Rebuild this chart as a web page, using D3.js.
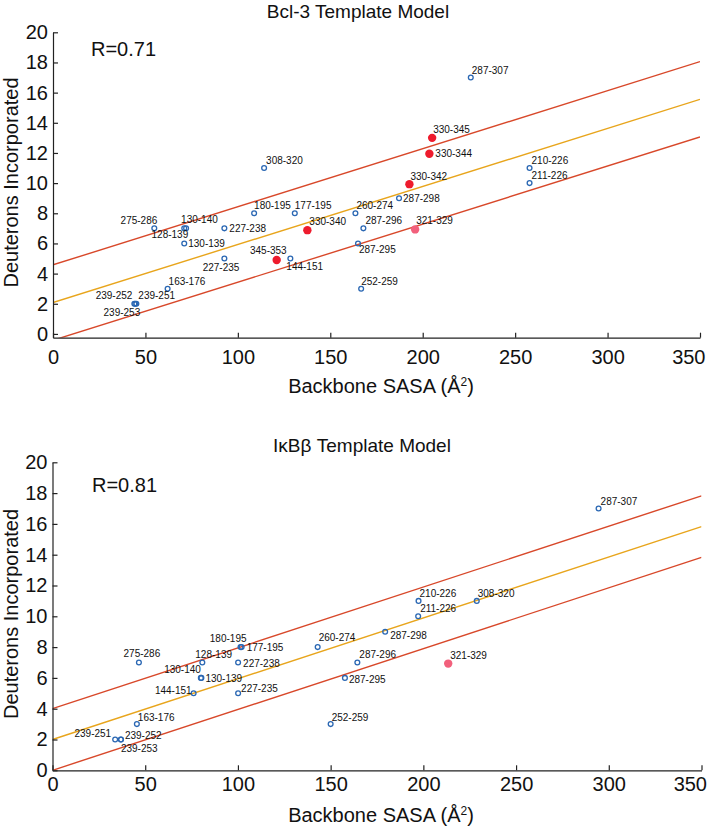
<!DOCTYPE html>
<html>
<head>
<meta charset="utf-8">
<script src="https://cdn.jsdelivr.net/npm/d3@7"></script>
<style>
  html, body { margin: 0; padding: 0; background: #fff; }
  svg { display: block; font-family: "Liberation Sans", Arial, sans-serif; }
</style>
</head>
<body>
<svg id="chart" width="709" height="832"></svg>
<script>
// ---------------- DATA ----------------
const xTicks = [0, 50, 100, 150, 200, 250, 300, 350];
const yTicks = [0, 2, 4, 6, 8, 10, 12, 14, 16, 18, 20];

// Panel 1: Bcl-3 Template Model
const bclTitle = "Bcl-3 Template Model";
const bclR = "R=0.71";
const bclLabels = ["287-307","330-345","330-344","308-320","210-226","211-226","330-342","287-298",
  "180-195","177-195","260-274","275-286","130-140","128-139","227-238","330-340","287-296",
  "321-329","130-139","287-295","227-235","345-353","144-151","163-176","252-259",
  "239-252","239-251","239-253"];
const bclX = [226, 205.1, 203.6, 114.2, 257.8, 257.8, 192.8, 187.2,
  108.8, 130.8, 163.6, 54.8, 72, 71, 92.7, 137.6, 167.9,
  195.9, 71, 165, 92.7, 121, 128.4, 62, 166.7,
  44, 45.1, 44.5];
const bclY = [17, 13, 11.95, 11, 11, 10, 9.93, 9,
  8, 8, 8, 7, 7, 7, 7, 6.88, 7,
  6.93, 6, 6, 5, 4.9, 5, 3, 3,
  2, 2, 2];
const bclKind = ["o","r","r","o","o","o","r","o",
  "o","o","o","o","o","o","o","r","o",
  "p","o","o","o","r","o","o","o",
  "o","o","o"];
const bclFit = [2.08, 0.0385];   // intercept, slope
const bclBand = 2.5;

// Panel 2: IκBβ Template Model
const ikbTitle = "IκBβ Template Model";
const ikbR = "R=0.81";
const ikbLabels = ["287-307","210-226","308-320","211-226","287-298","180-195","177-195","260-274",
  "275-286","128-139","227-238","287-296","321-329","130-140","130-139","287-295",
  "144-151","227-235","163-176","252-259","239-251","239-252","239-253"];
const ikbX = [294.5, 197.4, 228.8, 197.2, 179.4, 101.4, 102, 143,
  46.6, 80.8, 100.1, 164.4, 213.4, 80, 80.3, 157.7,
  76.1, 100.1, 45.5, 150, 33.8, 36.9, 36.9];
const ikbY = [17, 11, 11, 10, 9, 8, 8, 8,
  7, 7, 7, 7, 6.93, 6, 6, 6,
  5, 5, 3, 3, 2, 2, 2];
const ikbKind = ["o","o","o","o","o","o","o","o",
  "o","o","o","o","p","o","o","o",
  "o","o","o","o","o","o","o"];
const ikbFit = [2.0, 0.0395];
const ikbBand = 2.0;

// ---------------- STYLE (label placement: anchor, dx, dy) ----------------
const bclLabelPos = {
  "287-307":["start",1,-4], "330-345":["start",1,-4.5], "330-344":["start",6,3.5],
  "308-320":["start",2,-4], "210-226":["start",2,-3.8], "211-226":["start",2,-3.8],
  "330-342":["start",1,-4.5], "287-298":["start",4,3.5], "180-195":["start",0,-4.5],
  "177-195":["start",0,-4.5], "260-274":["start",1,-4.5], "275-286":["end",3,-4],
  "130-140":["start",-5,-5.5], "128-139":["end",4,10], "227-238":["start",5,4],
  "330-340":["start",2,-5], "287-296":["start",2,-4.5], "321-329":["start",1,-5],
  "130-139":["start",4,4], "287-295":["start",1,10], "227-235":["end",15,12],
  "345-353":["end",10,-6], "144-151":["start",-4,11], "163-176":["start",1,-3.5],
  "252-259":["start",0,-4], "239-252":["end",-2,-5], "239-251":["start",2,-5],
  "239-253":["end",5,12.5]
};
const ikbLabelPos = {
  "287-307":["start",2,-4], "210-226":["start",1,-4], "308-320":["start",1,-4],
  "211-226":["start",2,-4], "287-298":["start",5,7], "180-195":["end",6,-5],
  "177-195":["start",5,4], "260-274":["start",1,-6], "275-286":["middle",3,-6],
  "128-139":["start",-7,-5], "227-238":["start",5,4], "287-296":["start",2,-5],
  "321-329":["start",2,-5], "130-140":["end",0,-4.5], "130-139":["start",4,4],
  "287-295":["start",4,5], "144-151":["end",-2,1], "227-235":["start",3,-1],
  "163-176":["start",1,-3], "252-259":["start",1,-3.5], "239-251":["end",-4,-3],
  "239-252":["start",4,-1], "239-253":["start",0,12]
};

const colors = {
  open: "#2a67b3", red: "#ee1b2d", pink: "#f2607c",
  band: "#d8482a", fit: "#e8a51c", axis: "#222", text: "#111"
};

const svg = d3.select("#chart");

function drawPanel(cfg) {
  const x = d3.scaleLinear().domain([0, 350]).range([cfg.x0, cfg.x1]);
  const y = d3.scaleLinear().domain(cfg.ydom).range([cfg.yBot, cfg.yTop]);
  const g = svg.append("g");

  // clip
  const clipId = "clip" + cfg.id;
  svg.append("defs").append("clipPath").attr("id", clipId)
    .append("rect").attr("x", cfg.x0).attr("y", cfg.yTop)
    .attr("width", cfg.x1 - cfg.x0).attr("height", cfg.yBot - cfg.yTop);

  // fit lines
  const lg = g.append("g").attr("clip-path", `url(#${clipId})`);
  const lines = [
    { off: cfg.band, c: colors.band },
    { off: 0, c: colors.fit },
    { off: -cfg.band, c: colors.band }
  ];
  const line = d3.line().x(d => x(d[0])).y(d => y(d[1]));
  lines.forEach(l => {
    const pts = [0, 350].map(v => [v, cfg.fit[0] + l.off + cfg.fit[1] * v]);
    lg.append("path").attr("d", line(pts)).attr("fill", "none")
      .attr("stroke", l.c).attr("stroke-width", 1.4);
  });

  // axes
  const ax = d3.axisBottom(x).tickValues(xTicks).tickSizeInner(-5).tickSizeOuter(0)
    .tickPadding(cfg.xPad).tickFormat(d3.format("d"));
  const ay = d3.axisLeft(y).tickValues(yTicks).tickSizeInner(-5).tickSizeOuter(0)
    .tickPadding(5).tickFormat(d3.format("d"));
  const gx = g.append("g").attr("transform", `translate(0,${cfg.yBot})`).call(ax);
  const gy = g.append("g").attr("transform", `translate(${cfg.x0},0)`).call(ay);
  [gx, gy].forEach(a => {
    a.selectAll("path,line").attr("stroke", colors.axis).attr("stroke-width", 1.2);
    a.selectAll("text").attr("font-size", 20).attr("fill", colors.text)
      .attr("font-family", "Liberation Sans, Arial, sans-serif");
  });
  // last x tick label kept inside the page, as in the reference
  gx.selectAll(".tick text").filter(d => d === 350).attr("text-anchor", "end").attr("dx", 5);

  // points
  const data = cfg.labels.map((l, i) => ({ l, x: cfg.xs[i], y: cfg.ys[i], k: cfg.kinds[i] }));
  g.selectAll(".pt").data(data).enter().append("circle")
    .attr("cx", d => x(d.x)).attr("cy", d => y(d.y))
    .attr("r", d => d.k === "o" ? 2.4 : 4.2)
    .attr("fill", d => d.k === "o" ? "none" : (d.k === "r" ? colors.red : colors.pink))
    .attr("stroke", d => d.k === "o" ? colors.open : "none")
    .attr("stroke-width", 1.3);

  // labels
  g.selectAll(".lb").data(data).enter().append("text")
    .attr("x", d => x(d.x) + cfg.pos[d.l][1])
    .attr("y", d => y(d.y) + cfg.pos[d.l][2])
    .attr("text-anchor", d => cfg.pos[d.l][0])
    .attr("font-size", 10).attr("fill", colors.text)
    .text(d => d.l);

  // titles
  g.append("text").attr("x", cfg.titleX).attr("y", cfg.titleY).attr("text-anchor", "middle")
    .attr("font-size", 19).attr("fill", colors.text).text(cfg.title);
  g.append("text").attr("x", cfg.rX).attr("y", cfg.rY)
    .attr("font-size", 20).attr("fill", colors.text).text(cfg.r);
  g.append("text").attr("x", 381).attr("y", cfg.xLabY).attr("text-anchor", "middle")
    .attr("font-size", 20).attr("fill", colors.text)
    .html("Backbone SASA (Å<tspan dy='-7' font-size='12'>2</tspan><tspan dy='7'>)</tspan>");
  g.append("text").attr("transform", `translate(18,${cfg.yLabC}) rotate(-90)`)
    .attr("text-anchor", "middle").attr("font-size", 20).attr("fill", colors.text)
    .text("Deuterons Incorporated");
}

drawPanel({
  id: 1, x0: 53, x1: 700, yTop: 32.3, yBot: 337.7, ydom: [-0.25, 20], xPad: 12,
  labels: bclLabels, xs: bclX, ys: bclY, kinds: bclKind, pos: bclLabelPos,
  fit: bclFit, band: bclBand, title: bclTitle, r: bclR,
  titleX: 358, titleY: 17.5, rX: 91, rY: 56, xLabY: 393, yLabC: 182.5
});
drawPanel({
  id: 2, x0: 52.5, x1: 701.5, yTop: 462.3, yBot: 770.3, ydom: [0, 20], xPad: 7,
  labels: ikbLabels, xs: ikbX, ys: ikbY, kinds: ikbKind, pos: ikbLabelPos,
  fit: ikbFit, band: ikbBand, title: ikbTitle, r: ikbR,
  titleX: 362, titleY: 452, rX: 92, rY: 492, xLabY: 822, yLabC: 614
});
</script>
</body>
</html>
